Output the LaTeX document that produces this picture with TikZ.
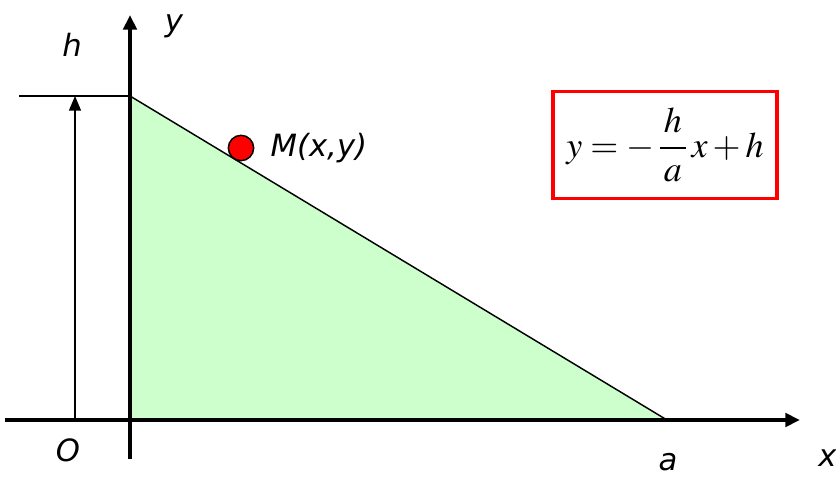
\documentclass[tikz,border=0pt]{standalone}
\usepackage{amsmath}
\usepackage{mathptmx}
\usepackage{fontspec}
\setmainfont{Liberation Serif}
\newfontfamily\lblfont{DejaVu Sans}
\usetikzlibrary{arrows.meta,positioning}

\begin{document}
\begin{tikzpicture}[
    x=0.75pt, y=-0.75pt,
    axis/.style={line width=3pt, -{Triangle[length=11pt,width=10pt]}},
    thin line/.style={line width=1.1pt},
    lbl/.style={font=\lblfont\itshape\fontsize{23}{26}\selectfont, inner sep=0pt},
    formula/.style={draw=red, line width=2.6pt, fill=white, minimum width=168pt, minimum height=80pt, inner sep=2pt, font=\fontsize{27}{30}\selectfont}
]
\useasboundingbox (0,0) rectangle (836,477);

% key points
\coordinate (O) at (130,420);
\coordinate (H) at (130,96);
\coordinate (A) at (667,420);

% shaded triangle
\fill[green!20] (O) -- (H) -- (A) -- cycle;
\draw[thin line] (H) -- (A);

% axes
\coordinate (xstart) at (5,420);
\coordinate (xend) at (800,420);
\coordinate (ystart) at (130,459);
\coordinate (yend) at (130,15);
\draw[axis] (xstart) -- (xend);
\draw[axis] (ystart) -- (yend);

% height marker
\coordinate (hleft) at (19,96);
\coordinate (hbase) at (75,420);
\coordinate (htop) at (75,96);
\draw[thin line] (hleft) -- (H);
\draw[thin line, -{Triangle[length=11pt,width=9pt]}] (hbase) -- (htop);

% point M
\node[circle, draw, thin line, fill=red, minimum size=19pt, inner sep=0pt] (M) at (241,148) {};
\node[lbl, right=12pt of M] (mlbl) {M(x,y)};

% labels
\node[lbl] (hlbl) at (72,45) {h};
\node[lbl] (ylbl) at (174,26) {y};
\node[lbl] (olbl) at (68,450) {O};
\node[lbl] (albl) at (668,462) {a};
\node[lbl, anchor=west] (xlbl) at (818,458) {x};

% equation
\node[formula] (eq) at (665,145) {$y=-\,\dfrac{\,h\,}{a}\,x+h$};
\end{tikzpicture}
\end{document}
